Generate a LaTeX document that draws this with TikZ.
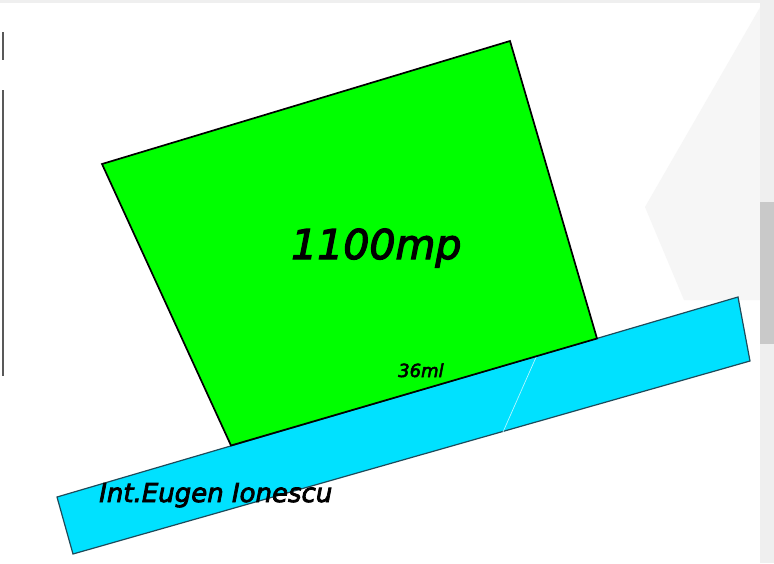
\documentclass[tikz,border=0pt]{standalone}
\usepackage{fontspec}
\setmainfont{DejaVu Sans}
\newfontfamily\labelfont[FakeBold=3]{DejaVu Sans}
\definecolor{lotgreen}{HTML}{00FF00}
\definecolor{streetblue}{HTML}{00E1FF}
\definecolor{edgeteal}{HTML}{1E4A5A}
\definecolor{bgA}{HTML}{F6F6F6}
\definecolor{bgB}{HTML}{EFEFEF}
\definecolor{bgC}{HTML}{C9C9C9}
\tikzset{
  lot/.style={fill=lotgreen, draw=black, line width=1.7pt, line join=miter},
  street/.style={fill=streetblue, draw=edgeteal, line width=1.2pt},
  lbl/.style={inner sep=0pt, anchor=base west, text=black},
}
\begin{document}
\begin{tikzpicture}[x=1pt,y=-1pt]
\useasboundingbox (0,0) rectangle (774,563);
\fill[white] (0,0) rectangle (774,563);
% background UI remnants
\fill[bgA] (762,4) -- (645,207) -- (684,300) -- (760,300) -- (760,4) -- cycle;
\fill[bgB] (760,0) rectangle (774,563);
\fill[bgC] (760,202) rectangle (774,344);
\fill[bgB] (0,0) rectangle (760,3);
\draw[gray!70!black, line width=1.4pt] (3,32) -- (3,60);
\draw[gray!70!black, line width=1.4pt] (3,90) -- (3,376);
% street
\coordinate (s1) at (57,497);
\coordinate (s2) at (738,297);
\coordinate (s3) at (750,361);
\coordinate (s4) at (73,554);
\draw[street] (s1) -- (s2) -- (s3) -- (s4) -- cycle;
\coordinate (d1) at (537,355);
\coordinate (d2) at (503,432);
\draw[white!70!streetblue, line width=0.7pt] (d1) -- (d2);
% lot
\coordinate (l1) at (102,164);
\coordinate (l2) at (510,41);
\coordinate (l3) at (597,338.5);
\coordinate (l4) at (231,445.5);
\draw[lot] (l1) -- (l2) -- (l3) -- (l4) -- cycle;
% labels
\node[lbl, font=\labelfont\itshape\fontsize{41}{41}\selectfont] (area) at (291,259) {1100mp};
\node[lbl, font=\labelfont\itshape\fontsize{18}{18}\selectfont] (len) at (398,377) {36ml};
\node[lbl, font=\labelfont\itshape\fontsize{26}{26}\selectfont] (name) at (99,502) {Int.Eugen Ionescu};
\end{tikzpicture}
\end{document}
